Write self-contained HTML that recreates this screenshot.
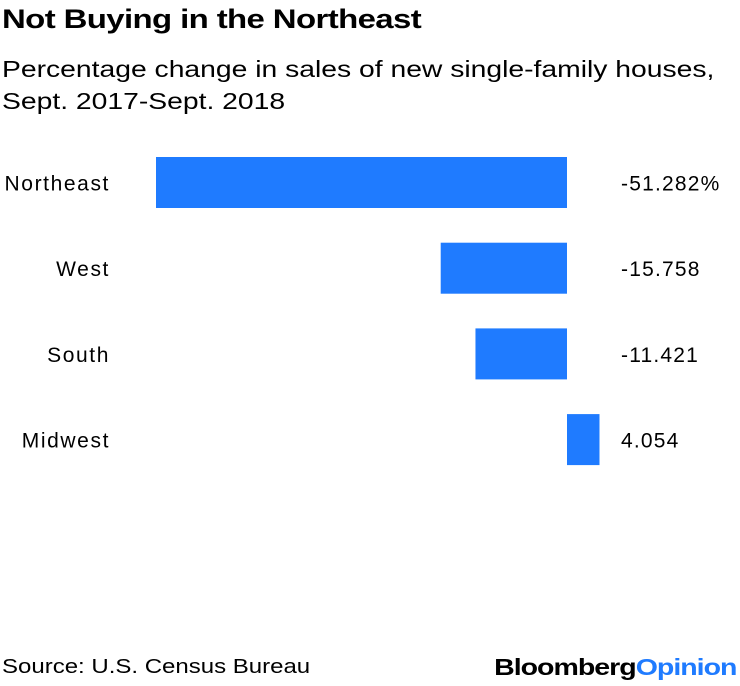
<!DOCTYPE html>
<html><head><meta charset="utf-8">
<style>
body{margin:0;background:#fff;width:740px;height:686px;overflow:hidden;font-family:"Liberation Sans",sans-serif;color:#000;position:relative}
.t{position:absolute;white-space:nowrap;transform-origin:left top}
</style></head><body>
<div class="t" style="left:2px;top:4px;font-size:27px;font-weight:bold;letter-spacing:-0.5px;transform:scaleX(1.22)">Not Buying in the Northeast</div>
<div class="t" style="left:2px;top:53px;font-size:23px;line-height:32px;transform:scaleX(1.23)">Percentage change in sales of new single-family houses,<br>Sept. 2017-Sept. 2018</div>
<svg id="chart" width="740" height="686" style="position:absolute;left:0;top:0"></svg>
<div class="t" style="left:2px;top:656px;font-size:20px;transform:scaleX(1.2)">Source: U.S. Census Bureau</div>
<div class="t" style="right:4px;top:654px;font-size:23px;font-weight:bold;letter-spacing:-0.8px;transform:scaleX(1.24);transform-origin:right top">Bloomberg<span style="color:#1f7bff">Opinion</span></div>
<script>
const categories=["Northeast","West","South","Midwest"];
const values=[-51.282,-15.758,-11.421,4.054];
const valueLabels=["-51.282%","-15.758","-11.421","4.054"];
const svg=document.getElementById('chart');
const NS="http://www.w3.org/2000/svg";
const zeroX=567, pxPerUnit=411/51.282;
function xScale(v){return zeroX+v*pxPerUnit;}
function yScale(i){return 157+i*85.7;}
const barH=51;
categories.forEach((c,i)=>{
  const y=yScale(i);
  const x0=Math.min(xScale(0),xScale(values[i])), x1=Math.max(xScale(0),xScale(values[i]));
  const r=document.createElementNS(NS,'rect');
  r.setAttribute('x',x0);r.setAttribute('y',y);r.setAttribute('width',x1-x0);r.setAttribute('height',barH);r.setAttribute('fill','#1f7bff');
  
  
  svg.appendChild(r);
  const l=document.createElementNS(NS,'text');
  l.setAttribute('x',110);l.setAttribute('y',y+barH/2+8);l.setAttribute('text-anchor','end');l.setAttribute('font-size','21');l.setAttribute('letter-spacing','1.6');l.setAttribute('font-family','Liberation Sans, sans-serif');
  l.textContent=c;
  
  
  svg.appendChild(l);
  const v=document.createElementNS(NS,'text');
  v.setAttribute('x',621);v.setAttribute('y',y+barH/2+8);v.setAttribute('font-size','21');v.setAttribute('letter-spacing','1.2');v.setAttribute('font-family','Liberation Sans, sans-serif');
  v.textContent=valueLabels[i];
  
  
  svg.appendChild(v);
});
</script>
</body></html>
